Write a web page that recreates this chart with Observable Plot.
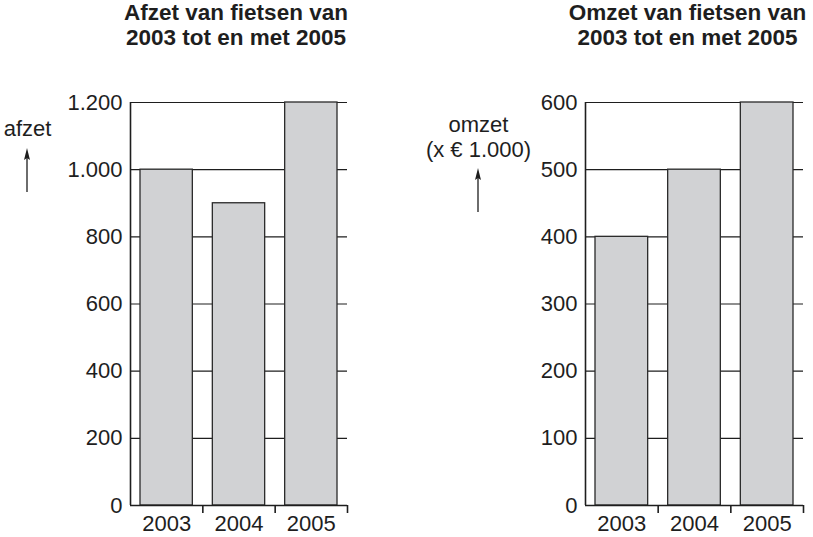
<!DOCTYPE html>
<html><head><meta charset="utf-8">
<script src="https://cdn.jsdelivr.net/npm/d3@7"></script>
<script src="https://cdn.jsdelivr.net/npm/@observablehq/plot@0.6"></script>
<style>
body{margin:0;background:#fff;}
#wrap{display:flex;width:813px;height:537px;}
svg{font-family:"Liberation Sans",Arial,sans-serif;}
</style></head><body><div id="wrap"></div>
<script>
const years = [2003, 2004, 2005];
const afzet = [1000, 900, 1200];
const omzet = [400, 500, 600];
const afzetTicks = [0, 200, 400, 600, 800, 1000, 1200];
const omzetTicks = [0, 100, 200, 300, 400, 500, 600];
const titles = ["Afzet van fietsen van\n2003 tot en met 2005", "Omzet van fietsen van\n2003 tot en met 2005"];
const yLabels = ["afzet", "omzet\n(x € 1.000)"];

const nl = d3.formatLocale({decimal: ",", thousands: ".", grouping: [3], currency: ["€ ", ""]});
const fmt = nl.format(",");
const INK = "#1e1e1e";

function arrowMark(x, yTop, yBottom) {
  return () => {
    const g = d3.create("svg:g");
    g.append("line").attr("x1", x).attr("x2", x).attr("y1", yTop + 6).attr("y2", yBottom)
      .attr("stroke", INK).attr("stroke-width", 1.3);
    g.append("path").attr("d", `M${x},${yTop}L${x - 3},${yTop + 12}L${x},${yTop + 10}L${x + 3},${yTop + 12}Z`)
      .attr("fill", INK);
    return g.node();
  };
}

function chart({values, ticks, title, label, width, marginLeft, marginRight, titleDx, labelDx, labelDy, labelLH, arrowX, arrowTop, arrowBottom}) {
  const data = years.map((year, i) => ({year, value: values[i]}));
  const x0 = d3.min(years) - 0.5, x1 = d3.max(years) + 0.5;
  return Plot.plot({
    width, height: 537, marginLeft, marginRight, marginTop: 102, marginBottom: 32,
    style: {fontFamily: '"Liberation Sans", Arial, sans-serif', fontSize: "22px", color: INK, background: "#fff"},
    x: {type: "linear", domain: [x0, x1], axis: null},
    y: {domain: [0, d3.max(ticks)], axis: null},
    marks: [
      Plot.gridY(ticks, {stroke: INK, strokeOpacity: 1, strokeWidth: 1.1}),
      Plot.rectY(data, {x1: d => d.year - 0.5, x2: d => d.year + 0.5, y: "value", insetLeft: 10, insetRight: 10,
        fill: "#d1d2d4", stroke: "#2a2a2a", strokeWidth: 1.3}),
      Plot.ruleY([0], {stroke: INK, strokeWidth: 1.6}),
      Plot.ruleX([x0], {stroke: INK, strokeWidth: 1.6}),
      Plot.axisY(ticks, {tickSize: 0, tickPadding: 8, tickFormat: fmt, fontSize: 22, label: null, fill: INK}),
      Plot.axisX(years.map(y => y + 0.5), {tickSize: 8, tickFormat: () => "", label: null, stroke: INK, strokeWidth: 1.6}),
      Plot.axisX(years, {tickSize: 0, tickPadding: 10, tickFormat: d => String(d), fontSize: 22, label: null, fill: INK}),
      Plot.text([title], {frameAnchor: "top", dx: titleDx, dy: -100, lineAnchor: "top", lineHeight: 1.11,
        fontWeight: "bold", fontSize: 22.5, fill: INK}),
      Plot.text([label], {frameAnchor: "top-left", textAnchor: "middle", dx: labelDx, dy: labelDy, lineAnchor: "top",
        lineHeight: labelLH, fontSize: 22, fill: INK}),
      arrowMark(arrowX, arrowTop, arrowBottom)
    ]
  });
}

const wrap = document.getElementById("wrap");
wrap.appendChild(chart({values: afzet, ticks: afzetTicks, title: titles[0], label: yLabels[0],
  width: 406, marginLeft: 130, marginRight: 59, titleDx: -3, labelDx: 27 - 130, labelDy: 18, labelLH: 1,
  arrowX: 27, arrowTop: 148, arrowBottom: 192}));
wrap.appendChild(chart({values: omzet, ticks: omzetTicks, title: titles[1], label: yLabels[1],
  width: 407, marginLeft: 179, marginRight: 10, titleDx: -7, labelDx: 72 - 179, labelDy: 12, labelLH: 1.13,
  arrowX: 72, arrowTop: 168, arrowBottom: 212}));
</script></body></html>
